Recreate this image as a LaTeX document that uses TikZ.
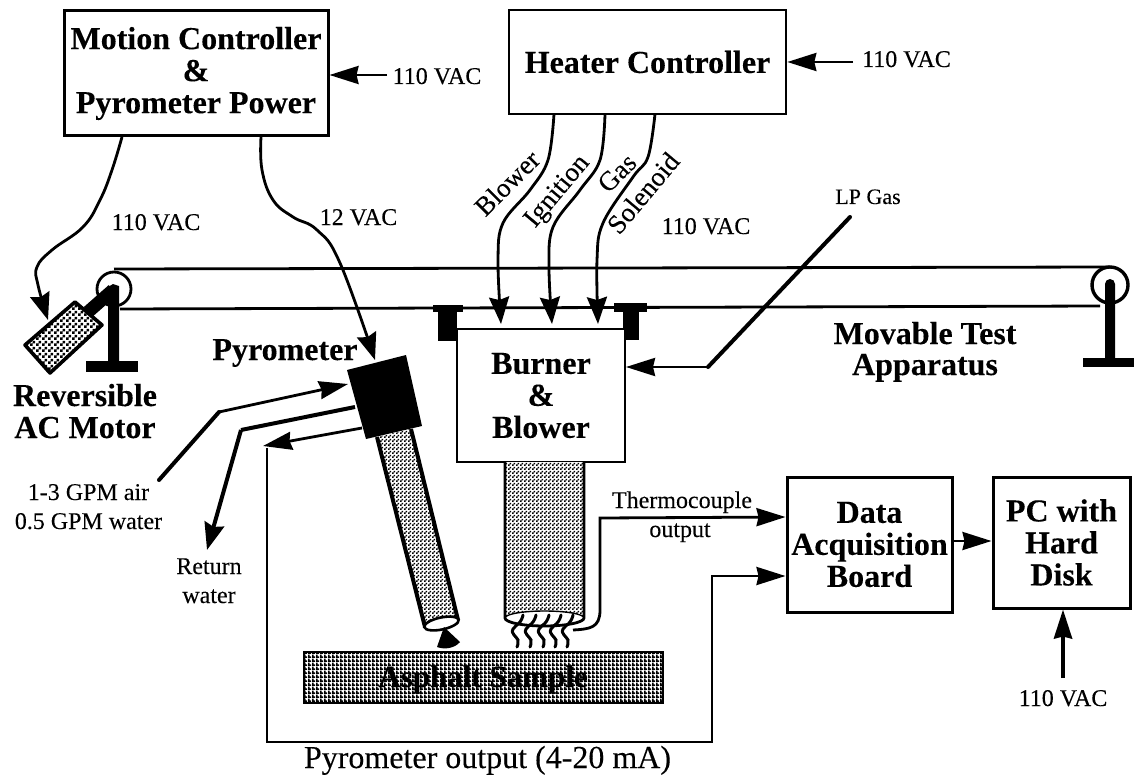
\documentclass[tikz,border=0pt]{standalone}
\usepackage{fontspec}
\setmainfont{Liberation Serif}[FakeBold=0.2]
\usetikzlibrary{arrows.meta,patterns,calc}
\pgfdeclarepatternformonly{finedots}{\pgfqpoint{0pt}{0pt}}{\pgfqpoint{4pt}{4pt}}{\pgfqpoint{4pt}{4pt}}{
  \pgfpathrectangle{\pgfqpoint{0pt}{0pt}}{\pgfqpoint{2pt}{2pt}}
  \pgfpathrectangle{\pgfqpoint{2pt}{2pt}}{\pgfqpoint{2pt}{2pt}}
  \pgfusepath{fill}}
\pgfdeclarepatternformonly{densedots}{\pgfqpoint{0pt}{0pt}}{\pgfqpoint{4pt}{4pt}}{\pgfqpoint{4pt}{4pt}}{
  \pgfpathrectangle{\pgfqpoint{0pt}{0pt}}{\pgfqpoint{4pt}{2pt}}
  \pgfpathrectangle{\pgfqpoint{0pt}{2pt}}{\pgfqpoint{2pt}{2pt}}
  \pgfusepath{fill}}
\pgfdeclarepatternformonly{gridmotor}{\pgfqpoint{0pt}{0pt}}{\pgfqpoint{6pt}{6pt}}{\pgfqpoint{6pt}{6pt}}{
  \pgfpathrectangle{\pgfqpoint{0pt}{0pt}}{\pgfqpoint{3pt}{3pt}}
  \pgfpathrectangle{\pgfqpoint{3pt}{3pt}}{\pgfqpoint{3pt}{3pt}}
  \pgfusepath{fill}}
\newcommand{\fsz}[1]{\fontsize{#1}{#1}\selectfont}
\tikzset{
  x=1pt,y=-1pt,
  boxnode/.style={draw,line width=3pt,fill=white,inner sep=0pt,align=center,font=\fsz{32}\bfseries},
  boldlabel/.style={inner sep=0pt,align=center,anchor=base,font=\fsz{32}\bfseries},
  plainlabel/.style={inner sep=0pt,align=center,anchor=base,font=\fsz{24}},
  wirelabel/.style={inner sep=0pt,font=\fsz{27}},
  wire/.style={line width=2.8pt},
  heavy/.style={line width=4pt},
  tip/.style={-{Stealth[length=27pt,width=20pt,inset=3pt]}},
  stubtip/.style={-{Stealth[length=29pt,width=18pt,inset=2pt]}},
  solid black/.style={fill=black,draw=none},
  flame/.style={line width=3pt,line cap=round},
}
\begin{document}
\begin{tikzpicture}
\useasboundingbox (0,0) rectangle (1134,778);
% ---- belt and pulleys
\coordinate (ltop) at (114,269); \coordinate (rtop) at (1110,267);
\coordinate (lbot) at (120,309); \coordinate (rbot) at (1100,306);
\draw[wire] (ltop) -- (rtop);
\draw[wire] (lbot) -- (rbot);
\node[circle,draw,line width=2.8pt,minimum size=34pt,inner sep=0pt,fill=white] (lpulley) at (114,289) {};
\node[circle,draw,line width=3.4pt,minimum size=36pt,inner sep=0pt,fill=white] (rpulley) at (1110,285) {};
\fill[solid black] (108,287) -- (113,284) -- (119,286) -- (119,361) -- (108,361) -- cycle;
\fill[solid black] (86,361) rectangle (138,372);
\fill[solid black] (1105,284) arc[start angle=180,end angle=360,radius=5] -- (1115,358) -- (1105,358) -- cycle;
\fill[solid black] (1083,358) rectangle (1134,367);
% ---- motor
\draw[line width=13pt] (88,312) -- (113,290);
\coordinate (motorA) at (25,345); \coordinate (motorB) at (75,302);
\coordinate (motorC) at (102,325); \coordinate (motorD) at (50,373);
\fill[white] (motorA) -- (motorB) -- (motorC) -- (motorD) -- cycle;
\path[pattern=gridmotor,pattern color=black] (motorA) -- (motorB) -- (motorC) -- (motorD) -- cycle;
\draw[line width=3.6pt,line join=round] (motorA) -- (motorB) -- (motorC) -- (motorD) -- cycle;
% ---- boxes
\node[boxnode,minimum width=264pt,minimum height=125pt] (motion) at (196,73.5) {Motion Controller\\\&\\Pyrometer Power};
\node[boxnode,line width=2.6pt,minimum width=277pt,minimum height=104pt] (heater) at (647.5,62) {Heater Controller};
\fill[solid black] (433,305) rectangle (463,312);
\fill[solid black] (438,305) rectangle (457,341);
\fill[solid black] (614,303) rectangle (647,312);
\fill[solid black] (623,303) rectangle (639,340);
\node[boxnode,line width=2.6pt,minimum width=168pt,minimum height=133pt] (burner) at (541,395.5) {Burner\\\&\\Blower};
\node[boxnode,minimum width=165pt,minimum height=135pt] (data) at (869.5,544.5) {Data\\Acquisition\\Board};
\node[boxnode,minimum width=137pt,minimum height=131pt] (pc) at (1061.5,542.5) {PC with\\Hard\\Disk};
% ---- burner tube
\coordinate (btl) at (505,462); \coordinate (btr) at (584,462);
\coordinate (bbl) at (505,618); \coordinate (bbr) at (584,618);
\fill[white] (btl) -- (bbl) arc[x radius=39.5,y radius=9,start angle=180,end angle=0] -- (btr) -- cycle;
\path[pattern=finedots] (btl) -- (bbl) arc[x radius=39.5,y radius=7,start angle=180,end angle=360] -- (btr) -- cycle;
\draw[wire] (btl) -- (bbl) arc[x radius=39.5,y radius=8,start angle=180,end angle=0] -- (btr);
\draw[line width=1.4pt] (bbl) arc[x radius=39.5,y radius=7,start angle=180,end angle=360];
\foreach \x in {517,530,543,555,567}
  \draw[flame] plot[smooth,tension=.9] coordinates {(\x+6,615) (\x+3,622) (\x-4,629) (\x-3,635) (\x+1,640) (\x,647)};
% ---- pyrometer
\coordinate (ptl) at (377,437); \coordinate (ptr) at (411,429);
\coordinate (pbl) at (425,627); \coordinate (pbr) at (458,620);
\fill[white] (ptl) -- (pbl) -- (pbr) -- (ptr) -- cycle;
\path[pattern=finedots] (ptl) -- (pbl) -- (pbr) -- (ptr) -- cycle;
\draw[heavy] (ptl) -- (pbl);
\draw[heavy] (ptr) -- (pbr);
\filldraw[draw=black,fill=white,line width=2.6pt,rotate around={12:(441.5,623.5)}] (441.5,623.5) ellipse[x radius=17.5,y radius=6];
\fill[solid black] (444,627) -- (437,647) .. controls (445,650) and (455,648) .. (460,642) -- cycle;
\fill[solid black] (347,370) -- (406,355) -- (422,426) -- (366,439) -- cycle;
\coordinate (pyL) at (348,384);
\coordinate (pyM) at (355,407);
\coordinate (pyR) at (362,428);
\coordinate (pyT) at (375,360);
% ---- sample
\fill[white] (304,652) rectangle (663,703);
\path[pattern=densedots] (304,652) rectangle (663,703);
\draw[line width=1.8pt] (304,652) rectangle (663,703);
\node[boldlabel,font=\fsz{31}\bfseries] (sample) at (483,687) {Asphalt Sample};
% ---- wires from motion controller
\coordinate (mw1) at (122,137); \coordinate (mw2) at (261,137);
\coordinate (motorTip) at (48,320);
\draw[wire,tip] plot[smooth,tension=.7] coordinates {(mw1) (112,170) (100,200) (83,227) (52,250) (37,267) (38,285) (motorTip)};
\draw[wire,tip] plot[smooth,tension=.7] coordinates {(mw2) (262,170) (273,200) (293,217) (317,230) (340,263) (pyT)};
\coordinate (m110) at (387,75);
\draw[wire,stubtip] (m110) -- (motion.east |- m110);
\coordinate (h110) at (853,62);
\draw[wire,stubtip] (h110) -- (heater.east |- h110);
% ---- heater wires
\coordinate (hw1) at (554,114); \coordinate (hw2) at (605,114); \coordinate (hw3) at (655,114);
\coordinate (bt1) at (501,324); \coordinate (bt2) at (552,324); \coordinate (bt3) at (598,324);
\draw[wire,tip] plot[smooth,tension=.6] coordinates {(hw1) (548,160) (530,190) (503,223) (498,260) (bt1)};
\draw[wire,tip] plot[smooth,tension=.6] coordinates {(hw2) (600,160) (580,190) (553,227) (549,267) (bt2)};
\draw[wire,tip] plot[smooth,tension=.6] coordinates {(hw3) (648,157) (633,177) (603,223) (597,260) (bt3)};
\node[wirelabel,rotate=45] (lblower) at (507,183) {Blower};
\node[wirelabel,rotate=50] (lignition) at (558,192) {Ignition};
\node[wirelabel,rotate=45] (lgas) at (617,173) {Gas};
\node[wirelabel,rotate=50] (lsolenoid) at (643,193) {Solenoid};
% ---- LP gas
\coordinate (lp0) at (850,217); \coordinate (lptip) at (626,367);
\draw[heavy,line cap=round] (lp0) -- (708,367);
\draw[wire,stubtip] (708,367) -- (lptip);
% ---- water and air
\coordinate (air0) at (159,480); \coordinate (retTip) at (207,550);
\draw[heavy,line cap=round] (air0) -- (219,412);
\draw[wire,stubtip] (219,412) -- (pyL);
\draw[heavy] (pyM) -- (241,430);
\draw[heavy,tip] (241,430) -- (retTip);
\coordinate (retwTip) at (263,446);
\draw[wire,stubtip] (pyR) -- (retwTip);
% ---- signals
\coordinate (out0) at (267,448); \coordinate (dataIn2) at (data.west |- 0,576); \coordinate (dataIn1) at (data.west |- 0,517);
\draw[wire,stubtip] (out0) -- (267,742) -- (712,742) -- (712,576) -- (dataIn2);
\coordinate (th0) at (573,630);
\draw[wire,stubtip] (th0) .. controls (590,629) and (600,628) .. (600,610) -- (600,518) -- (dataIn1);
\draw[wire,stubtip] (data.east |- 0,541) -- (pc.west |- 0,541);
\coordinate (pc110) at (1063,678);
\draw[heavy,stubtip] (pc110) -- (pc.south -| pc110);
% ---- labels
\node[plainlabel] (t1) at (437,84) {110 VAC};
\node[plainlabel] (t2) at (906.5,67) {110 VAC};
\node[plainlabel] (t3) at (156,230) {110 VAC};
\node[plainlabel] (t4) at (358.5,225) {12 VAC};
\node[plainlabel] (t5) at (706,234) {110 VAC};
\node[plainlabel,font=\fsz{22}] (t6) at (868,204) {LP Gas};
\node[boldlabel] (t7) at (925,344) {Movable Test};
\node[boldlabel] (t8) at (925,375) {Apparatus};
\node[boldlabel] (t9) at (85,406) {Reversible};
\node[boldlabel] (t10) at (85,438) {AC Motor};
\node[boldlabel] (t11) at (285,360) {Pyrometer};
\node[plainlabel] (t12) at (88.5,500) {1-3 GPM air};
\node[plainlabel] (t13) at (88.5,529) {0.5 GPM water};
\node[plainlabel] (t14) at (209,574) {Return};
\node[plainlabel] (t15) at (209,603) {water};
\node[plainlabel] (t16) at (682,508) {Thermocouple};
\node[plainlabel] (t17) at (680,537) {output};
\node[plainlabel] (t18) at (1063,706) {110 VAC};
\node[plainlabel,font=\fsz{32}] (t19) at (487.5,768) {Pyrometer output (4-20 mA)};
\end{tikzpicture}
\end{document}
